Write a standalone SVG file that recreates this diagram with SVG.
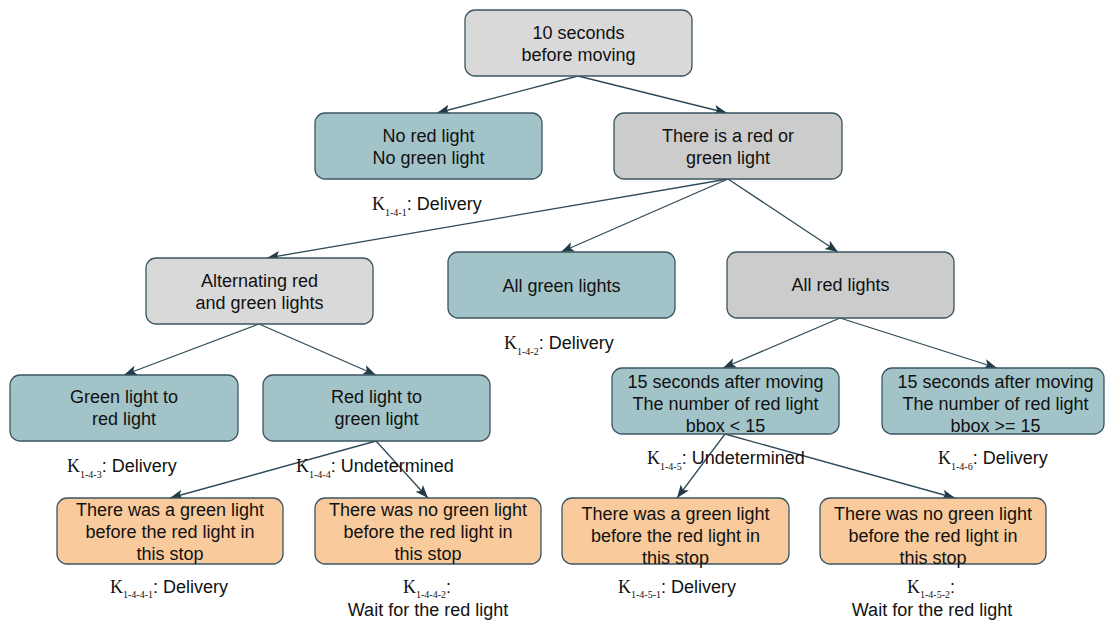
<svg xmlns="http://www.w3.org/2000/svg" width="1105" height="623" viewBox="0 0 1105 623">
  <style>
    .box { stroke: #3b5563; stroke-width: 1.3; }
    .gray { fill: #d9d9d9; }
    .dgray { fill: #cccccc; }
    .teal { fill: #a2c4c9; }
    .orange { fill: #f9cb9c; }
    .t { font-family: "Liberation Sans", Arial, sans-serif; font-size: 18px; fill: #111; text-anchor: middle; }
    .lbl { font-family: "Liberation Sans", Arial, sans-serif; font-size: 18px; fill: #111; }
    .k { font-family: "Liberation Serif", "Times New Roman", serif; font-size: 18px; }
    .sub { font-family: "Liberation Serif", "Times New Roman", serif; font-size: 10px; }
    .edge { fill: none; stroke: #2f4a58; stroke-width: 1.3; marker-end: url(#arrow); }
  </style>
  <defs>
    <marker id="arrow" markerUnits="userSpaceOnUse" markerWidth="14" markerHeight="12" viewBox="0 0 14 12" refX="13" refY="6" orient="auto">
      <path d="M0,1 L13,6 L0,11 L3,6 Z" fill="#233b47"/>
    </marker>
  </defs>
  <rect width="1105" height="623" fill="#ffffff"/>

  <!-- connectors -->
  <g id="connectors">
    <line class="edge" x1="578" y1="76" x2="437" y2="113"/>
    <line class="edge" x1="578" y1="76" x2="727" y2="113"/>
    <line class="edge" x1="728" y1="179" x2="267" y2="258"/>
    <line class="edge" x1="728" y1="179" x2="561" y2="252"/>
    <line class="edge" x1="728" y1="179" x2="838" y2="252"/>
    <line class="edge" x1="259" y1="324" x2="124" y2="375"/>
    <line class="edge" x1="259" y1="324" x2="376" y2="375"/>
    <line class="edge" x1="376" y1="441" x2="170" y2="498"/>
    <line class="edge" x1="376" y1="441" x2="428" y2="498"/>
    <line class="edge" x1="840" y1="318" x2="723" y2="368"/>
    <line class="edge" x1="840" y1="318" x2="997" y2="368"/>
    <line class="edge" x1="725" y1="434" x2="677" y2="498"/>
    <line class="edge" x1="725" y1="434" x2="955" y2="498"/>
  </g>

  <!-- nodes -->
  <g id="root">
    <rect class="box gray" x="465" y="10" width="227" height="66" rx="10"/>
    <text class="t" x="578.5" y="39">10 seconds</text>
    <text class="t" x="578.5" y="61">before moving</text>
  </g>
  <g id="no-light">
    <rect class="box teal" x="315" y="113" width="227" height="66" rx="10"/>
    <text class="t" x="428.5" y="141.5">No red light</text>
    <text class="t" x="428.5" y="163.5">No green light</text>
  </g>
  <g id="red-or-green">
    <rect class="box dgray" x="614" y="113" width="228" height="66" rx="10"/>
    <text class="t" x="728" y="141.5">There is a red or</text>
    <text class="t" x="728" y="163.5">green light</text>
  </g>
  <g id="alternating">
    <rect class="box gray" x="146" y="258" width="227" height="66" rx="10"/>
    <text class="t" x="259.5" y="286.5">Alternating red</text>
    <text class="t" x="259.5" y="308.5">and green lights</text>
  </g>
  <g id="all-green">
    <rect class="box teal" x="448" y="252" width="227" height="66" rx="10"/>
    <text class="t" x="561.5" y="291.5">All green lights</text>
  </g>
  <g id="all-red">
    <rect class="box dgray" x="727" y="252" width="227" height="66" rx="10"/>
    <text class="t" x="840.5" y="291">All red lights</text>
  </g>
  <g id="green-to-red">
    <rect class="box teal" x="10" y="375" width="228" height="66" rx="10"/>
    <text class="t" x="124" y="403">Green light to</text>
    <text class="t" x="124" y="425">red light</text>
  </g>
  <g id="red-to-green">
    <rect class="box teal" x="263" y="375" width="227" height="66" rx="10"/>
    <text class="t" x="376.5" y="403">Red light to</text>
    <text class="t" x="376.5" y="425">green light</text>
  </g>
  <g id="bbox-lt-15">
    <rect class="box teal" x="612" y="368" width="227" height="66" rx="10"/>
    <text class="t" x="725.5" y="388">15 seconds after moving</text>
    <text class="t" x="725.5" y="410">The number of red light</text>
    <text class="t" x="725.5" y="432">bbox &lt; 15</text>
  </g>
  <g id="bbox-ge-15">
    <rect class="box teal" x="882" y="368" width="222" height="66" rx="10"/>
    <text class="t" x="995.5" y="388">15 seconds after moving</text>
    <text class="t" x="995.5" y="410">The number of red light</text>
    <text class="t" x="995.5" y="432">bbox &gt;= 15</text>
  </g>
  <g id="rg-green-before">
    <rect class="box orange" x="57" y="498" width="226" height="66" rx="10"/>
    <text class="t" x="170" y="516">There was a green light</text>
    <text class="t" x="170" y="538">before the red light in</text>
    <text class="t" x="170" y="560">this stop</text>
  </g>
  <g id="rg-no-green-before">
    <rect class="box orange" x="315" y="498" width="226" height="66" rx="10"/>
    <text class="t" x="428" y="516">There was no green light</text>
    <text class="t" x="428" y="538">before the red light in</text>
    <text class="t" x="428" y="560">this stop</text>
  </g>
  <g id="bbox-green-before">
    <rect class="box orange" x="562" y="498" width="227" height="66" rx="10"/>
    <text class="t" x="675.5" y="520">There was a green light</text>
    <text class="t" x="675.5" y="542">before the red light in</text>
    <text class="t" x="675.5" y="564">this stop</text>
  </g>
  <g id="bbox-no-green-before">
    <rect class="box orange" x="820" y="498" width="226" height="66" rx="10"/>
    <text class="t" x="933" y="520">There was no green light</text>
    <text class="t" x="933" y="542">before the red light in</text>
    <text class="t" x="933" y="564">this stop</text>
  </g>

  <!-- outcome labels -->
  <g id="labels">
    <text class="lbl" x="372" y="210"><tspan class="k">K</tspan><tspan class="sub" dy="6">1-4-1</tspan><tspan dy="-6">: Delivery</tspan></text>
    <text class="lbl" x="504" y="349"><tspan class="k">K</tspan><tspan class="sub" dy="6">1-4-2</tspan><tspan dy="-6">: Delivery</tspan></text>
    <text class="lbl" x="67" y="472"><tspan class="k">K</tspan><tspan class="sub" dy="6">1-4-3</tspan><tspan dy="-6">: Delivery</tspan></text>
    <text class="lbl" x="296" y="472"><tspan class="k">K</tspan><tspan class="sub" dy="6">1-4-4</tspan><tspan dy="-6">: Undetermined</tspan></text>
    <text class="lbl" x="647" y="464"><tspan class="k">K</tspan><tspan class="sub" dy="6">1-4-5</tspan><tspan dy="-6">: Undetermined</tspan></text>
    <text class="lbl" x="938" y="464"><tspan class="k">K</tspan><tspan class="sub" dy="6">1-4-6</tspan><tspan dy="-6">: Delivery</tspan></text>
    <text class="lbl" x="110" y="593"><tspan class="k">K</tspan><tspan class="sub" dy="5">1-4-4-1</tspan><tspan dy="-5">: Delivery</tspan></text>
    <text class="lbl" x="403" y="593"><tspan class="k">K</tspan><tspan class="sub" dy="5">1-4-4-2</tspan><tspan dy="-5">:</tspan></text>
    <text class="t" x="428" y="616">Wait for the red light</text>
    <text class="lbl" x="618" y="593"><tspan class="k">K</tspan><tspan class="sub" dy="5">1-4-5-1</tspan><tspan dy="-5">: Delivery</tspan></text>
    <text class="lbl" x="907" y="593"><tspan class="k">K</tspan><tspan class="sub" dy="5">1-4-5-2</tspan><tspan dy="-5">:</tspan></text>
    <text class="t" x="932" y="616">Wait for the red light</text>
  </g>
</svg>
